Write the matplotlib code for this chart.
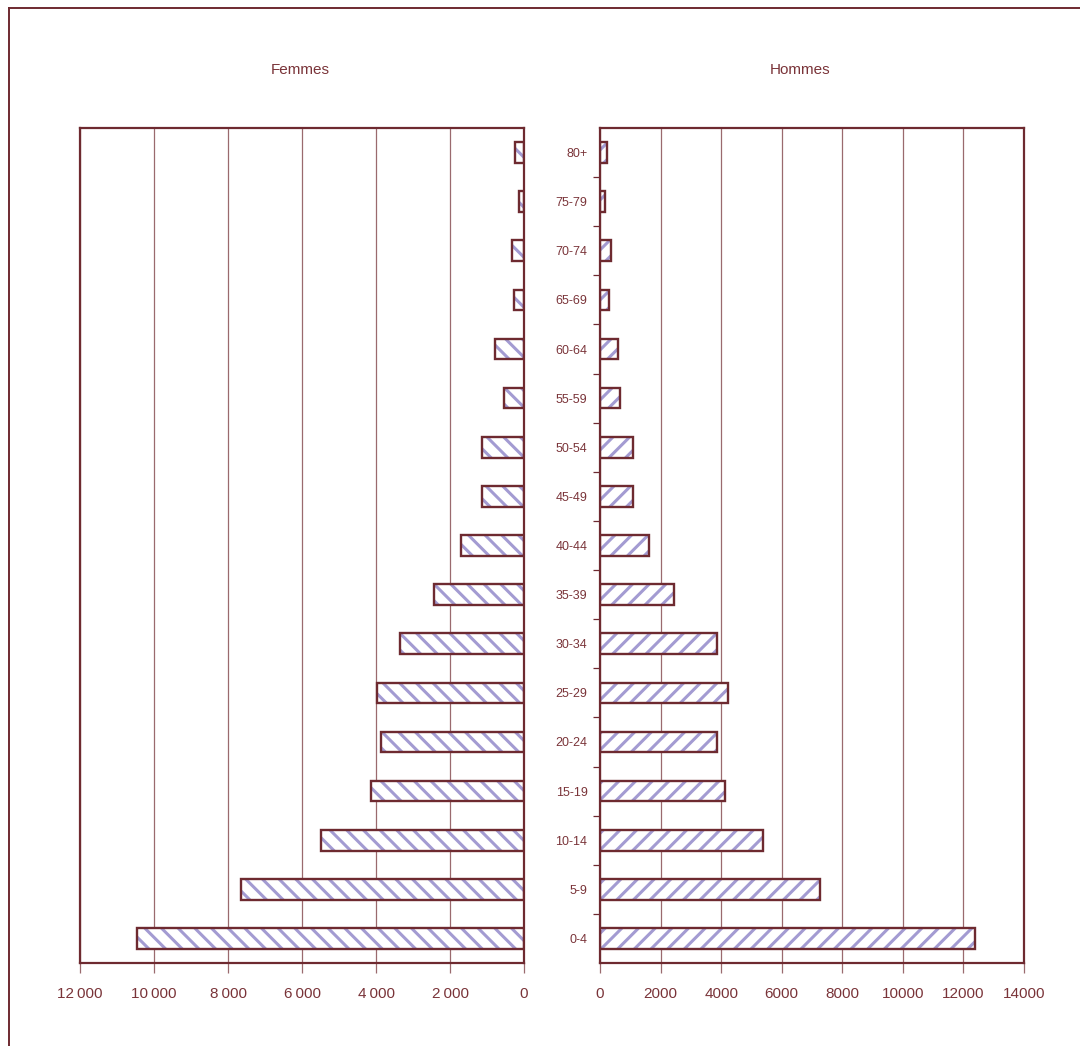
import matplotlib
matplotlib.use("Agg")
import matplotlib.pyplot as plt
from matplotlib.lines import Line2D
from matplotlib.ticker import FixedLocator

ages = ["0-4", "5-9", "10-14", "15-19", "20-24", "25-29", "30-34", "35-39",
        "40-44", "45-49", "50-54", "55-59", "60-64", "65-69", "70-74", "75-79", "80+"]
femmes = [10460, 7650, 5490, 4140, 3870, 3970, 3350, 2430,
          1700, 1140, 1140, 540, 780, 280, 330, 140, 240]
hommes = [12380, 7260, 5380, 4130, 3860, 4230, 3860, 2440,
          1620, 1090, 1090, 650, 590, 300, 360, 170, 240]

left_ticks = [12000, 10000, 8000, 6000, 4000, 2000, 0]
left_tick_labels = ["12\u2009000", "10\u2009000", "8\u2009000", "6\u2009000", "4\u2009000", "2\u2009000", "0"]
right_ticks = [0, 2000, 4000, 6000, 8000, 10000, 12000, 14000]
right_tick_labels = ["0", "2000", "4000", "6000", "8000", "10000", "12000", "14000"]

MAROON = "#6e2a30"
TEXT = "#7a3439"
GRID = "#9a6a6e"
HATCH = "#a39bd2"

plt.rcParams["font.family"] = ["Liberation Sans", "DejaVu Sans"]
plt.rcParams["hatch.linewidth"] = 2.2

W, H = 1080, 1046
fig = plt.figure(figsize=(W / 100, H / 100), dpi=100)


def px_axes(x0, y0, x1, y1):
    return fig.add_axes([x0 / W, 1 - y1 / H, (x1 - x0) / W, (y1 - y0) / H])


ax_f = px_axes(80, 128, 524, 963)
ax_h = px_axes(600, 128, 1024, 963)
ypos = list(range(len(ages)))


def draw_bars(ax, values, hatch):
    # hatched fill first, then the dark outline on top
    ax.barh(ypos, values, height=0.42, color="white", edgecolor=HATCH,
            linewidth=0, hatch=hatch, zorder=3)
    ax.barh(ypos, values, height=0.42, fill=False, edgecolor=MAROON,
            linewidth=1.7, zorder=3.5)


draw_bars(ax_f, femmes, "\\\\")
draw_bars(ax_h, hommes, "//")

ax_f.set_xlim(12000, 0)
ax_h.set_xlim(0, 14000)

for ax in (ax_f, ax_h):
    ax.set_ylim(-0.5, len(ages) - 0.5)
    for sp in ax.spines.values():
        sp.set_color(MAROON)
        sp.set_linewidth(1.6)
        sp.set_zorder(4)
    ax.grid(axis="x", color=GRID, linewidth=0.9, zorder=1)
    ax.set_axisbelow(True)
    ax.tick_params(axis="x", direction="out", length=7, width=0.9,
                   color=GRID, labelcolor=TEXT, labelsize=11, pad=10)

ax_f.set_xticks(left_ticks)
ax_f.set_xticklabels(left_tick_labels)
ax_f.set_yticks([])

ax_h.set_xticks(right_ticks)
ax_h.set_xticklabels(right_tick_labels)
ax_h.set_yticks(ypos)
ax_h.set_yticklabels(ages)
ax_h.yaxis.set_minor_locator(FixedLocator([i + 0.5 for i in range(len(ages) - 1)]))
ax_h.tick_params(axis="y", which="major", length=0, pad=9,
                 labelcolor=TEXT, labelsize=9)
ax_h.tick_params(axis="y", which="minor", direction="out", length=5,
                 width=0.9, color=MAROON)

fig.text(300 / W, 1 - 70 / H, "Femmes", ha="center", va="center",
         color=TEXT, fontsize=11)
fig.text(800 / W, 1 - 70 / H, "Hommes", ha="center", va="center",
         color=TEXT, fontsize=11)

# outer frame, open to the right and bottom
fx, fy = 8.5 / W, 1 - 7.5 / H
fig.add_artist(Line2D([fx, fx], [fy, -0.01], transform=fig.transFigure,
                      color=MAROON, linewidth=1.4))
fig.add_artist(Line2D([fx, 1.01], [fy, fy], transform=fig.transFigure,
                      color=MAROON, linewidth=1.4))

fig.savefig("out.png", dpi=100)
